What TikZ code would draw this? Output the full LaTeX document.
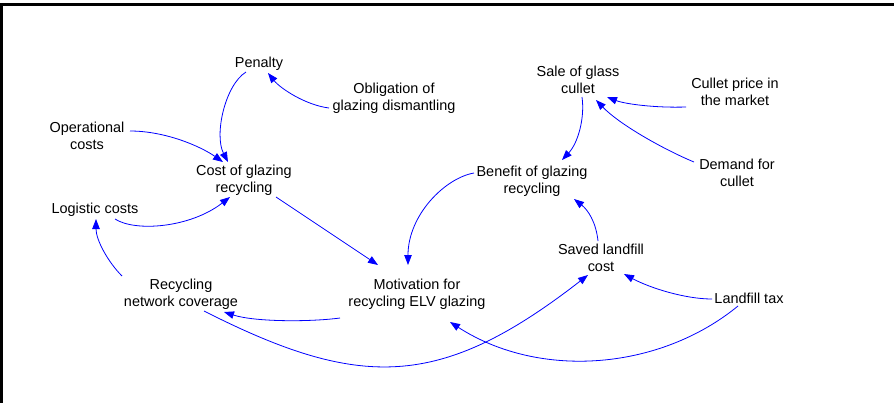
\documentclass[tikz,border=0pt]{standalone}
\usepackage{fontspec}
\setmainfont{Liberation Sans}
\usetikzlibrary{arrows.meta}
\begin{document}
\begin{tikzpicture}[x=1bp,y=1bp,
  lbl/.style={align=center,font=\fontsize{14.5}{17}\selectfont,inner sep=0pt,text=black},
  link/.style={draw=blue,line width=0.8bp,-{Triangle[length=10bp,width=7.5bp]}}]
\useasboundingbox (0,0) rectangle (894,-403);
\fill (0,-3) rectangle (894,-6);
\fill (0,-3) rectangle (3,-403);
% nodes
\node[lbl] (pen)   at (259,-64)  {Penalty};
\node[lbl] (obl)   at (394,-98)  {Obligation of\\glazing dismantling};
\node[lbl] (op)    at (87,-136)  {Operational\\costs};
\node[lbl] (cost)  at (244,-180) {Cost of glazing\\recycling};
\node[lbl] (log)   at (95,-210)  {Logistic costs};
\node[lbl] (rnc)   at (181,-294) {Recycling\\network coverage};
\node[lbl] (mot)   at (417,-294) {Motivation for\\recycling ELV glazing};
\node[lbl] (ben)   at (532,-181) {Benefit of glazing\\recycling};
\node[lbl] (sale)  at (578,-80)  {Sale of glass\\cullet};
\node[lbl] (price) at (735,-92)  {Cullet price in\\the market};
\node[lbl] (dem)   at (737,-173) {Demand for\\cullet};
\node[lbl] (saved) at (601,-258) {Saved landfill\\cost};
\node[lbl] (tax)   at (749,-298) {Landfill tax};
% connectors
\draw[link] ([shift={(-13,-8)}]pen.center) .. controls +(-21,-13) and +(-14,27) .. ([shift={(-16,18)}]cost.center);
\draw[link] ([shift={(-65,-10)}]obl.center) .. controls +(-24,3) and +(12,-15) .. ([shift={(9,-9)}]pen.center);
\draw[link] ([shift={(43,5)}]op.center) .. controls +(35,0) and +(-23,16) .. ([shift={(-21,18)}]cost.center);
\draw[link] ([shift={(20,-9)}]log.center) .. controls +(20,-13) and +(-40,-31) .. ([shift={(-14,-17)}]cost.center);
\draw[link] ([shift={(-59,18)}]rnc.center) .. controls +(-14,14) and +(0,-21) .. ([shift={(1,-9)}]log.center);
\draw[link] ([shift={(-77,-24)}]mot.center) .. controls +(-30,-4) and +(31,-10) .. ([shift={(43,-18)}]rnc.center);
\draw[link] ([shift={(23,-17)}]rnc.center) .. controls +(156,-79) and +(-148,-115) .. ([shift={(-13,-17)}]saved.center);
\draw[link] ([shift={(-11,-8)}]tax.center) .. controls +(-78,-64) and +(90,-58) .. ([shift={(33,-28)}]mot.center);
\draw[link] ([shift={(-37,-1)}]tax.center) .. controls +(-27,0) and +(26,-14) .. ([shift={(23,-16)}]saved.center);
\draw[link] ([shift={(32,-17)}]cost.center) -- ([shift={(-39,29)}]mot.center);
\draw[link] ([shift={(-58,8)}]ben.center) .. controls +(-29,-5) and +(0,50) .. ([shift={(-9,29)}]mot.center);
\draw[link] ([shift={(-3,17)}]saved.center) .. controls +(-2,19) and +(14,-11) .. ([shift={(42,-18)}]ben.center);
\draw[link] ([shift={(4,-17)}]sale.center) .. controls +(3,-21) and +(16,17) .. ([shift={(30,21)}]ben.center);
\draw[link] ([shift={(-49,-15)}]price.center) .. controls +(-31,-1) and +(18,-7) .. ([shift={(29,-17)}]sale.center);
\draw[link] ([shift={(-43,11)}]dem.center) .. controls +(-29,12) and +(24,-25) .. ([shift={(18,-20)}]sale.center);
\end{tikzpicture}
\end{document}
